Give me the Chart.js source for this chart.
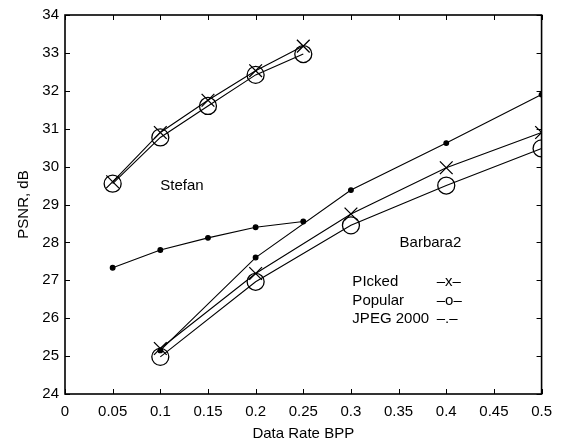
<!DOCTYPE html>
<html>
<head>
<meta charset="utf-8">
<script src="https://cdn.jsdelivr.net/npm/chart.js@4.4.1/dist/chart.umd.min.js"></script>
<style>
  html, body { margin: 0; padding: 0; background: #fff; }
  #wrap { width: 561px; height: 444px; }
</style>
</head>
<body>
<div id="wrap"><canvas id="psnrChart" width="561" height="444"></canvas></div>
<script>
// --- Data ---
const rates = [0.05, 0.1, 0.15, 0.2, 0.25];
const barbaraRates = [0.1, 0.2, 0.3, 0.4, 0.5];

const stefanPicked = [29.6, 30.9, 31.75, 32.53, 33.18];
const stefanPopular = [29.55, 30.77, 31.6, 32.42, 32.97];
const stefanJpeg = [27.33, 27.8, 28.12, 28.4, 28.55];

const barbaraPicked = [25.2, 27.18, 28.75, 29.97, 30.9];
const barbaraPopular = [24.98, 26.96, 28.45, 29.5, 30.48];
const barbaraJpeg = [25.15, 27.6, 29.38, 30.62, 31.9];

const xTicks = [0, 0.05, 0.1, 0.15, 0.2, 0.25, 0.3, 0.35, 0.4, 0.45, 0.5];
const yTicks = [24, 25, 26, 27, 28, 29, 30, 31, 32, 33, 34];

const legendNames = ["PIcked", "Popular", "JPEG 2000"];
const legendMarks = ["\u2013x\u2013", "\u2013o\u2013", "\u2013.\u2013"];

const FONT = "'Liberation Sans', Arial, sans-serif";
const FS = 15;

function pts(xs, ys) {
  return xs.map((x, i) => ({ x, y: ys[i] }));
}

function series(label, xs, ys, style, radius) {
  const hollow = style === "circle" && radius > 3;
  return {
    label,
    data: pts(xs, ys),
    borderColor: "#000",
    backgroundColor: hollow ? "rgba(0,0,0,0)" : "#000",
    borderWidth: 1.1,
    pointStyle: style,
    pointRadius: radius,
    pointBorderWidth: 1.3,
    pointBorderColor: "#000",
    pointBackgroundColor: hollow ? "rgba(0,0,0,0)" : "#000",
    tension: 0,
    fill: false
  };
}

// frame, inward ticks and text labels
const decor = {
  id: "decor",
  afterDraw(chart) {
    const { ctx, chartArea: a, scales: { x, y } } = chart;
    ctx.save();
    ctx.strokeStyle = "#000";
    ctx.lineWidth = 1;
    const t = 5;
    ctx.beginPath();
    xTicks.forEach(v => {
      const px = Math.round(x.getPixelForValue(v)) + 0.5;
      ctx.moveTo(px, a.bottom); ctx.lineTo(px, a.bottom - t);
      ctx.moveTo(px, a.top); ctx.lineTo(px, a.top + t);
    });
    yTicks.forEach(v => {
      const py = Math.round(y.getPixelForValue(v)) + 0.5;
      ctx.moveTo(a.left, py); ctx.lineTo(a.left + t, py);
      ctx.moveTo(a.right, py); ctx.lineTo(a.right - t, py);
    });
    ctx.stroke();
    ctx.lineWidth = 1.6;
    ctx.strokeRect(a.left, a.top, a.right - a.left, a.bottom - a.top);

    ctx.fillStyle = "#000";
    ctx.font = FS + "px " + FONT;
    ctx.textBaseline = "middle";
    ctx.textAlign = "left";
    ctx.fillText("Stefan", x.getPixelForValue(0.1), y.getPixelForValue(29.5));
    ctx.fillText("Barbara2", x.getPixelForValue(0.351), y.getPixelForValue(27.98));

    const lx = x.getPixelForValue(0.3015);
    const mx = x.getPixelForValue(0.390);
    legendNames.forEach((name, i) => {
      const ly = y.getPixelForValue(26.97 - i * 0.5);
      ctx.fillText(name, lx, ly);
      ctx.fillText(legendMarks[i], mx, ly);
    });
    ctx.restore();
  }
};

function renderChart() {
  const ctx = document.getElementById("psnrChart").getContext("2d");
  new Chart(ctx, {
    type: "line",
    data: {
      datasets: [
        series("Stefan Picked", rates, stefanPicked, "crossRot", 9),
        series("Stefan Popular", rates, stefanPopular, "circle", 8.5),
        series("Stefan JPEG 2000", rates, stefanJpeg, "circle", 2.3),
        series("Barbara2 Picked", barbaraRates, barbaraPicked, "crossRot", 9),
        series("Barbara2 Popular", barbaraRates, barbaraPopular, "circle", 8.5),
        series("Barbara2 JPEG 2000", barbaraRates, barbaraJpeg, "circle", 2.3)
      ]
    },
    options: {
      responsive: false,
      animation: false,
      layout: { padding: { top: 14, right: 14, left: 0, bottom: 0 } },
      plugins: {
        legend: { display: false },
        tooltip: { enabled: false }
      },
      scales: {
        x: {
          type: "linear",
          min: 0,
          max: 0.5,
          afterBuildTicks: s => { s.ticks = xTicks.map(v => ({ value: v })); },
          afterFit: s => { s.height = 50; },
          grid: { display: false, drawTicks: false },
          border: { display: false },
          ticks: {
            color: "#000",
            font: { family: FONT, size: FS },
            padding: 9,
            maxRotation: 0,
            callback: v => String(Math.round(v * 100) / 100)
          },
          title: {
            display: true,
            text: "Data Rate BPP",
            color: "#000",
            font: { family: FONT, size: FS },
            padding: { top: 0, bottom: 1 }
          }
        },
        y: {
          min: 24,
          max: 34,
          afterBuildTicks: s => { s.ticks = yTicks.map(v => ({ value: v })); },
          afterFit: s => { s.width = 65; },
          grid: { display: false, drawTicks: false },
          border: { display: false },
          ticks: {
            color: "#000",
            font: { family: FONT, size: FS },
            padding: 6
          },
          title: {
            display: true,
            text: "PSNR, dB",
            color: "#000",
            font: { family: FONT, size: FS },
            padding: { top: 15, bottom: 0 }
          }
        }
      }
    },
    plugins: [decor]
  });
}

window.addEventListener("DOMContentLoaded", renderChart);
</script>
</body>
</html>
